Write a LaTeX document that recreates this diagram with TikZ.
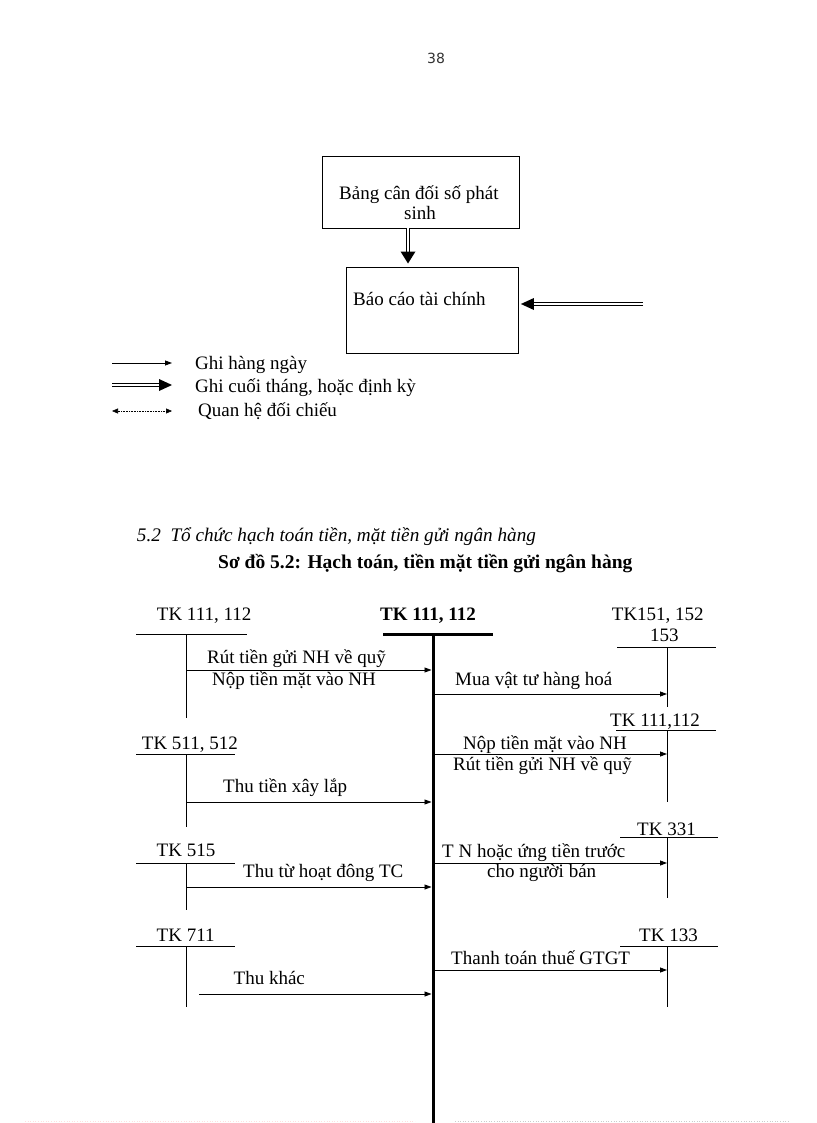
\documentclass[tikz,border=0pt]{standalone}
\usepackage{fontspec}
\setmainfont{Liberation Serif}
\newfontfamily\pagenumfont{DejaVu Sans}
\usetikzlibrary{arrows.meta}
\begin{document}
\begin{tikzpicture}[x=1pt,y=-1pt,
  txt/.style={anchor=base west,inner sep=0pt,font=\fontsize{19}{22}\selectfont},
  boxnode/.style={draw,line width=0.8pt,inner sep=0pt},
  thin/.style={line width=0.8pt},
  arr/.style={line width=0.8pt,-{Triangle[length=7pt,width=5pt]}},
  dotarr/.style={line width=0.6pt,densely dotted,{Triangle[length=6pt,width=5pt]}-{Triangle[length=6pt,width=5pt]}},
  dblline/.style={double,double distance=2.4pt,line width=0.7pt},
  mainline/.style={line width=3pt}]
\useasboundingbox (0,0) rectangle (816,1123);
\fill[white] (0,0) rectangle (816,1123);

% page number
\node[anchor=base west,inner sep=0pt,font=\pagenumfont\fontsize{14}{16}\selectfont,text=black!80] (pnum) at (427,64) {38};

% ===== top flow =====
\node[boxnode,minimum width=196.3pt,minimum height=72pt] (bcd) at (420.85,192) {};
\node[txt] (bcdt1) at (339,200) {Bảng cân đối số phát};
\node[txt] (bcdt2) at (404,220) {sinh};
\node[boxnode,minimum width=172.5pt,minimum height=86pt] (bctc) at (432.25,310) {};
\node[txt] (bctct) at (353,305.7) {Báo cáo tài chính};

\coordinate (d1s) at (bcd.south -| 408,0);
\coordinate (d1e) at (408,263.5);
\draw[dblline,shorten >=11pt] (d1s) -- (d1e);
\fill (d1e) -- ++(-7.5,-12) -- ++(15,0) -- cycle;

\coordinate (d2s) at (643,304);
\coordinate (d2e) at (bctc.east |- 0,304);
\draw[dblline,shorten >=12pt] (d2s) -- ([xshift=2pt]d2e);
\fill ([xshift=2pt]d2e) -- ++(13,-6) -- ++(0,12) -- cycle;

% ===== legend =====
\coordinate (lg1a) at (112,363); \coordinate (lg1b) at (172,363);
\draw[arr] (lg1a) -- (lg1b);
\node[txt] (lgt1) at (195,369) {Ghi hàng ngày};
\coordinate (lg2a) at (112,385); \coordinate (lg2b) at (172,385);
\draw[dblline,line width=0.9pt,double distance=2.2pt,shorten >=12pt] (lg2a) -- (lg2b);
\fill (lg2b) -- ++(-13,-6) -- ++(0,12) -- cycle;
\node[txt] (lgt2) at (195,392) {Ghi cuối tháng, hoặc định kỳ};
\coordinate (lg3a) at (112,411); \coordinate (lg3b) at (172,411);
\draw[dotarr] (lg3a) -- (lg3b);
\node[txt] (lgt3) at (198,416) {Quan hệ đối chiếu};

% ===== headings =====
\node[txt,font=\itshape\fontsize{19.2}{22}\selectfont] (h1) at (136.7,541.7) {5.2\ \ Tổ chức hạch toán tiền, mặt tiền gửi ngân hàng};
\node[txt,font=\bfseries\fontsize{19.5}{22}\selectfont] (h2) at (218,568) {Sơ đồ 5.2: Hạch toán, tiền mặt tiền gửi ngân hàng};

% ===== main account =====
\node[txt,font=\bfseries\fontsize{19}{22}\selectfont] (mt) at (380,620) {TK 111, 112};
\coordinate (mtl) at (383,634); \coordinate (mtr) at (493,634);
\coordinate (mtop) at (433,634); \coordinate (mbot) at (433,1123);
\draw[mainline] (mtl) -- (mtr);
\draw[mainline] (mtop) -- (mbot);

% ===== left accounts =====
\node[txt] (a1) at (156.7,620) {TK 111, 112};
\draw[thin] (136,634) -- (247,634);
\coordinate (a1t) at (186,634); \coordinate (a1b) at (186,718);
\draw[thin] (a1t) -- (a1b);

\node[txt] (a2) at (141.7,749) {TK 511, 512};
\draw[thin] (136,754) -- (235,754);
\coordinate (a2t) at (186,754); \coordinate (a2b) at (186,827);
\draw[thin] (a2t) -- (a2b);

\node[txt] (a3) at (156.5,856) {TK 515};
\draw[thin] (136,863) -- (235,863);
\coordinate (a3t) at (186,863); \coordinate (a3b) at (186,910);
\draw[thin] (a3t) -- (a3b);

\node[txt] (a4) at (156.5,941.7) {TK 711};
\draw[thin] (136,946) -- (235,946);
\coordinate (a4t) at (186,946); \coordinate (a4b) at (186,1007);
\draw[thin] (a4t) -- (a4b);

% ===== right accounts =====
\node[txt] (b1) at (611.7,620) {TK151, 152};
\node[txt] (b1b) at (650,641.7) {153};
\draw[thin] (617,647) -- (716,647);
\coordinate (b1t) at (667,647); \coordinate (b1e) at (667,707);
\draw[thin] (b1t) -- (b1e);

\node[txt] (b2) at (610,726.7) {TK 111,112};
\draw[thin] (616,730) -- (716,730);
\coordinate (b2t) at (667,730); \coordinate (b2e) at (667,802);
\draw[thin] (b2t) -- (b2e);

\node[txt] (b3) at (637,835) {TK 331};
\draw[thin] (620,837.5) -- (718,837.5);
\coordinate (b3t) at (667,837.5); \coordinate (b3e) at (667,898);
\draw[thin] (b3t) -- (b3e);

\node[txt] (b4) at (639,941.7) {TK 133};
\draw[thin] (620,946) -- (718,946);
\coordinate (b4t) at (667,946); \coordinate (b4e) at (667,1007);
\draw[thin] (b4t) -- (b4e);

% ===== flows in =====
\coordinate (f1a) at (186,670); \coordinate (f1b) at (431.5,670);
\draw[arr] (f1a) -- (f1b);
\node[txt] (f1t1) at (207,663) {Rút tiền gửi NH về quỹ};
\node[txt] (f1t2) at (212,685) {Nộp tiền mặt vào NH};

\coordinate (f2a) at (186,802); \coordinate (f2b) at (431.5,802);
\draw[arr] (f2a) -- (f2b);
\node[txt] (f2t) at (223,792) {Thu tiền xây lắp};

\coordinate (f3a) at (186,887); \coordinate (f3b) at (431.5,887);
\draw[arr] (f3a) -- (f3b);
\node[txt] (f3t) at (243,877) {Thu từ hoạt đông TC};

\coordinate (f4a) at (199,994); \coordinate (f4b) at (431.5,994);
\draw[arr] (f4a) -- (f4b);
\node[txt] (f4t) at (233.5,984) {Thu khác};

% ===== flows out =====
\coordinate (g1a) at (434.5,694); \coordinate (g1b) at (667,694);
\draw[arr] (g1a) -- (g1b);
\node[txt] (g1t) at (455,685) {Mua vật tư hàng hoá};

\coordinate (g2a) at (434.5,754); \coordinate (g2b) at (667,754);
\draw[arr] (g2a) -- (g2b);
\node[txt] (g2t1) at (463,749) {Nộp tiền mặt vào NH};
\node[txt] (g2t2) at (453,770) {Rút tiền gửi NH về quỹ};

\coordinate (g3a) at (434.5,863); \coordinate (g3b) at (667,863);
\draw[arr] (g3a) -- (g3b);
\node[txt] (g3t1) at (442,857) {T N hoặc ứng tiền trước};
\node[txt] (g3t2) at (487,877) {cho người bán};

\coordinate (g4a) at (434.5,970); \coordinate (g4b) at (667,970);
\draw[arr] (g4a) -- (g4b);
\node[txt] (g4t) at (451,964) {Thanh toán thuế GTGT};

% faint page edge
\draw[pink!50,dotted,line width=0.6pt] (25,1121) -- (415,1121);
\draw[gray!40,dotted,line width=0.6pt] (455,1121) -- (790,1121);
\end{tikzpicture}
\end{document}
